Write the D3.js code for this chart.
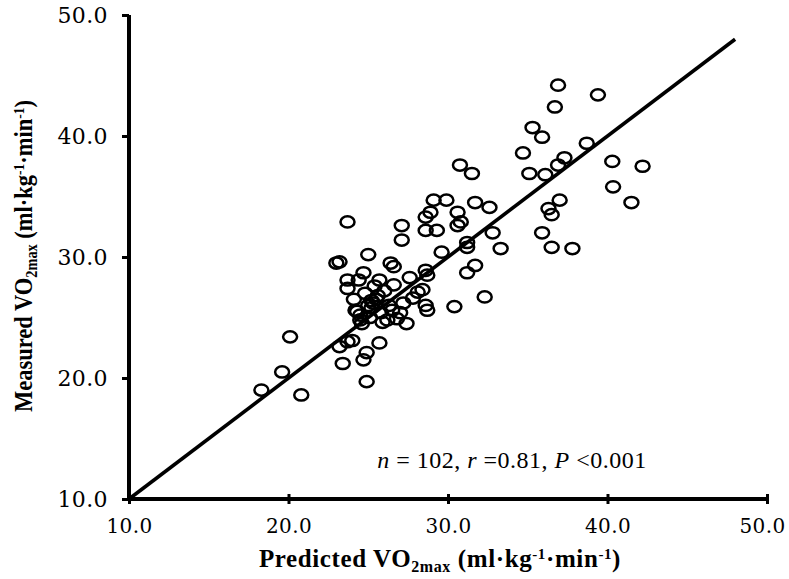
<!DOCTYPE html>
<html><head><meta charset="utf-8">
<script src="https://cdn.jsdelivr.net/npm/d3@7"></script>
<style>body{margin:0;background:#fff}</style>
</head><body>
<svg id="c" width="789" height="579"></svg>
<script>
const predicted = [36.9,39.4,36.7,35.3,35.9,34.7,38.7,37.3,36.9,40.3,42.2,30.75,31.5,35.1,36.1,40.35,41.5,37.0,36.3,36.5,35.9,36.5,37.8,33.3,32.8,31.7,32.6,29.1,29.9,30.6,28.9,28.6,30.6,30.8,28.6,29.3,31.2,31.2,29.6,31.7,31.2,28.6,28.7,28.4,32.3,30.4,28.6,28.7,23.7,27.1,27.1,25.0,23.2,23.0,26.4,26.6,27.6,23.7,24.4,24.7,25.7,26.6,28.1,23.7,25.3,24.2,27.2,27.0,27.4,24.5,26.2,20.1,19.6,18.3,20.8,23.7,24.0,23.2,25.7,24.9,24.7,23.4,24.9,24.3,24.5,25.0,25.5,25.2,25.8,25.6,24.8,26.0,25.4,26.3,24.1,26.8,25.9,24.6,25.1,26.5,27.8,25.2];
const measured  = [44.2,43.4,42.4,40.7,39.9,38.6,39.4,38.2,37.6,37.9,37.5,37.6,36.9,36.9,36.8,35.8,34.5,34.7,34.0,33.5,32.0,30.8,30.7,30.7,32.0,34.5,34.1,34.7,34.7,33.7,33.7,33.3,32.6,32.9,32.2,32.2,31.2,30.8,30.4,29.3,28.7,28.9,28.5,27.3,26.7,25.9,26.0,25.6,32.9,32.6,31.4,30.2,29.6,29.5,29.5,29.2,28.3,28.1,28.1,28.7,28.1,27.7,27.1,27.4,26.2,25.6,26.2,25.4,24.5,24.8,24.8,23.4,20.5,19.0,18.6,23.0,23.1,22.6,22.9,22.1,21.5,21.2,19.7,25.5,25.2,26.0,26.5,25.8,25.4,26.8,27.0,27.2,27.6,26.0,26.5,24.9,24.6,24.5,25.0,25.6,26.6,26.4];
const xTicks = [10,20,30,40,50];
const yTicks = [10,20,30,40,50];
const fitLine = [10,48];

const svg = d3.select('#c');
const x = d3.scaleLinear().domain([10,50]).range([129,767]);
const y = d3.scaleLinear().domain([10,50]).range([499,15]);
const fmt = d3.format('.1f');

// points
svg.append('g').selectAll('ellipse').data(predicted.map((p,i)=>[p,measured[i]])).join('ellipse')
  .attr('cx',d=>x(d[0])).attr('cy',d=>y(d[1])).attr('rx',7).attr('ry',5.6)
  .attr('fill','none').attr('stroke','#000').attr('stroke-width',2.5);

// fit line
svg.append('line').attr('x1',x(fitLine[0])).attr('y1',y(fitLine[0])).attr('x2',x(fitLine[1])).attr('y2',y(fitLine[1]))
  .attr('stroke','#000').attr('stroke-width',3.6);

// axes
const xa = svg.append('g').attr('transform',`translate(0,${y(10)})`)
  .call(d3.axisBottom(x).tickValues(xTicks).tickFormat(fmt).tickSize(0).tickPadding(20));
xa.select('.domain').attr('stroke-width',4).attr('d',`M${x(10)},0H${x(50)}`);
xa.selectAll('.tick').append('line').attr('y1',-5).attr('y2',5).attr('stroke','#000').attr('stroke-width',3);
xa.selectAll('.tick text').attr('font-size',20).attr('dx',d=>d===50?-5:0);
const ya = svg.append('g').attr('transform',`translate(${x(10)},0)`)
  .call(d3.axisLeft(y).tickValues(yTicks).tickFormat(fmt).tickSize(7).tickPadding(14));
ya.select('.domain').attr('stroke-width',4).attr('d',`M0,${y(10)}V${y(50)}`);
ya.selectAll('.tick line').attr('stroke-width',3);
ya.selectAll('.tick text').attr('font-size',22);
svg.selectAll('.tick text').attr('font-family','DejaVu Serif')
  .attr('letter-spacing',0.4).attr('fill','#000');

// axis titles
const xt = svg.append('text').attr('x',440).attr('y',567).attr('text-anchor','middle')
  .attr('font-family','Liberation Serif').attr('font-weight','bold').attr('font-size',25).attr('letter-spacing',0.6);
xt.append('tspan').text('Predicted VO');
xt.append('tspan').text('2max').attr('font-size',16).attr('dy',5);
xt.append('tspan').text(' (ml·kg').attr('dy',-5);
xt.append('tspan').text('-1').attr('font-size',15).attr('dy',-8);
xt.append('tspan').text('·min').attr('dy',8);
xt.append('tspan').text('-1').attr('font-size',15).attr('dy',-8);
xt.append('tspan').text(')').attr('dy',8);

const yt = svg.append('text').attr('transform','translate(32,256) rotate(-90)').attr('text-anchor','middle')
  .attr('font-family','Liberation Serif').attr('font-weight','bold').attr('font-size',25)
  .attr('textLength',312).attr('lengthAdjust','spacingAndGlyphs');
yt.append('tspan').text('Measured VO');
yt.append('tspan').text('2max').attr('font-size',16).attr('dy',5);
yt.append('tspan').text(' (ml·kg').attr('dy',-5);
yt.append('tspan').text('-1').attr('font-size',15).attr('dy',-8);
yt.append('tspan').text('·min').attr('dy',8);
yt.append('tspan').text('-1').attr('font-size',15).attr('dy',-8);
yt.append('tspan').text(')').attr('dy',8);

// annotation
const an = svg.append('text').attr('x',512).attr('y',468).attr('text-anchor','middle')
  .attr('font-family','Liberation Serif').attr('font-size',24).attr('letter-spacing',0.5);
an.append('tspan').text('n').attr('font-style','italic');
an.append('tspan').text(' = 102, ');
an.append('tspan').text('r').attr('font-style','italic');
an.append('tspan').text(' =0.81, ');
an.append('tspan').text('P').attr('font-style','italic');
an.append('tspan').text(' <0.001');
</script>
</body></html>
